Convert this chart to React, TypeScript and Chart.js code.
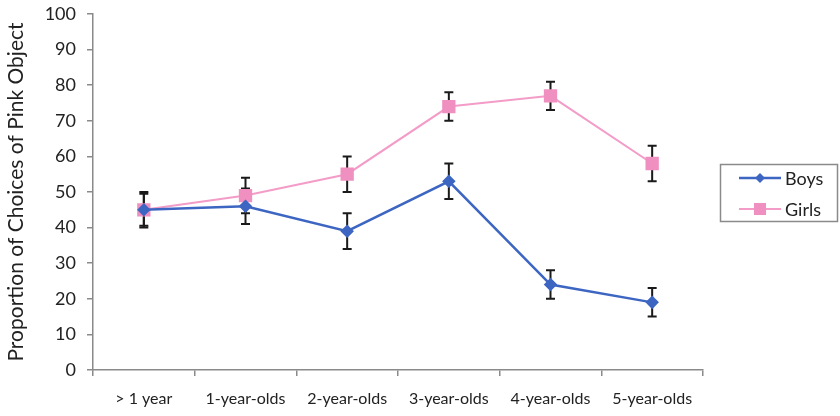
import React, { useEffect, useRef } from "react";
import { Chart, registerables } from "chart.js";

Chart.register(...registerables);

const categories = ["> 1 year", "1-year-olds", "2-year-olds", "3-year-olds", "4-year-olds", "5-year-olds"];
const boys = [45, 46, 39, 53, 24, 19];
const boysErr = [4.5, 5, 5, 5, 4, 4];
const girls = [45, 49, 55, 74, 77, 58];
const girlsErr = [5, 5, 5, 4, 4, 5];
const yTicks = [0, 10, 20, 30, 40, 50, 60, 70, 80, 90, 100];

const FONT = "Lato, 'Open Sans', sans-serif";
const BLUE = "#3d66c2";
const PINK = "#f39cc8";

const errorBarPlugin = {
  id: "errorBars",
  beforeDatasetsDraw(chart: any) {
    const ctx = chart.ctx;
    const y = chart.scales.y;
    const errs = [boysErr, girlsErr];
    ctx.save();
    ctx.strokeStyle = "#1a1a1a";
    ctx.lineWidth = 2;
    chart.data.datasets.forEach((ds: any, di: number) => {
      const meta = chart.getDatasetMeta(di);
      meta.data.forEach((pt: any, i: number) => {
        const v = ds.data[i];
        const e = errs[di][i];
        const yt = y.getPixelForValue(v + e);
        const yb = y.getPixelForValue(v - e);
        const x = pt.x;
        ctx.beginPath();
        ctx.moveTo(x, yt);
        ctx.lineTo(x, yb);
        ctx.moveTo(x - 4.5, yt);
        ctx.lineTo(x + 4.5, yt);
        ctx.moveTo(x - 4.5, yb);
        ctx.lineTo(x + 4.5, yb);
        ctx.stroke();
      });
    });
    ctx.restore();
  },
};

const legendPlugin = {
  id: "boxLegend",
  afterDraw(chart: any) {
    const ctx = chart.ctx;
    ctx.save();
    ctx.strokeStyle = "#8a8a8a";
    ctx.lineWidth = 1.5;
    ctx.strokeRect(720.5, 164.5, 117, 57);
    const rows = [178, 209];
    chart.data.datasets.forEach((ds: any, i: number) => {
      const yy = rows[i];
      ctx.strokeStyle = ds.borderColor;
      ctx.lineWidth = ds.borderWidth;
      ctx.beginPath();
      ctx.moveTo(739, yy);
      ctx.lineTo(781, yy);
      ctx.stroke();
      ctx.fillStyle = ds.pointBackgroundColor;
      ctx.beginPath();
      if (ds.pointStyle === "rectRot") {
        const r = 5;
        ctx.moveTo(760, yy - r);
        ctx.lineTo(760 + r, yy);
        ctx.lineTo(760, yy + r);
        ctx.lineTo(760 - r, yy);
        ctx.closePath();
        ctx.fill();
      } else {
        ctx.fillRect(754, yy - 6, 12, 12);
      }
      ctx.fillStyle = "#222";
      ctx.font = `18px ${FONT}`;
      ctx.textBaseline = "middle";
      ctx.textAlign = "left";
      ctx.fillText(ds.label, 785, yy + 1);
    });
    ctx.restore();
  },
};

export default function App() {
  const ref = useRef<HTMLCanvasElement | null>(null);
  useEffect(() => {
    if (!ref.current) return;
    const chart = new Chart(ref.current, {
      type: "line",
      data: {
        labels: categories,
        datasets: [
          {
            label: "Boys",
            data: boys,
            borderColor: BLUE,
            backgroundColor: BLUE,
            pointBackgroundColor: BLUE,
            pointBorderColor: BLUE,
            borderWidth: 2.5,
            pointStyle: "rectRot",
            pointRadius: 5,
            tension: 0,
          },
          {
            label: "Girls",
            data: girls,
            borderColor: PINK,
            backgroundColor: PINK,
            pointBackgroundColor: "#ef90c0",
            pointBorderColor: "#ef90c0",
            borderWidth: 2,
            pointStyle: "rect",
            pointRadius: 8,
            tension: 0,
          },
        ],
      },
      options: {
        animation: false,
        responsive: false,
        layout: { padding: { top: 14, right: 137, bottom: 0, left: 0 } },
        plugins: { legend: { display: false }, tooltip: { enabled: false } },
        scales: {
          x: {
            offset: true,
            grid: { display: true, drawOnChartArea: false, offset: true, color: "#8a8a8a", tickLength: 6, lineWidth: 1.5 },
            border: { color: "#8a8a8a", width: 1.5 },
            ticks: { color: "#222", font: { family: FONT, size: 16 }, padding: 13, maxRotation: 0, autoSkip: false },
            afterFit: (s: any) => { s.height = 46; },
          },
          y: {
            min: 0,
            max: 100,
            afterBuildTicks: (s: any) => { s.ticks = yTicks.map((v) => ({ value: v })); },
            grid: { display: true, drawOnChartArea: false, color: "#8a8a8a", tickLength: 6, lineWidth: 1.5 },
            border: { color: "#8a8a8a", width: 1.5 },
            ticks: { color: "#222", font: { family: FONT, size: 18 }, padding: 11 },
            title: {
              display: true,
              text: "Proportion of Choices of Pink Object",
              color: "#222",
              font: { family: FONT, size: 21 },
              padding: { top: 4, bottom: 0 },
            },
            afterFit: (s: any) => {
              s.width = 93;
              s.paddingTop = 0;
              s.paddingBottom = 0;
            },
          },
        },
      },
      plugins: [errorBarPlugin, legendPlugin],
    });
    return () => chart.destroy();
  }, []);
  return (
    <div style={{ position: "absolute", left: 0, top: 0, width: 840, height: 416, background: "#fff" }}>
      <canvas ref={ref} width={840} height={416} style={{ width: 840, height: 416 }} />
    </div>
  );
}
